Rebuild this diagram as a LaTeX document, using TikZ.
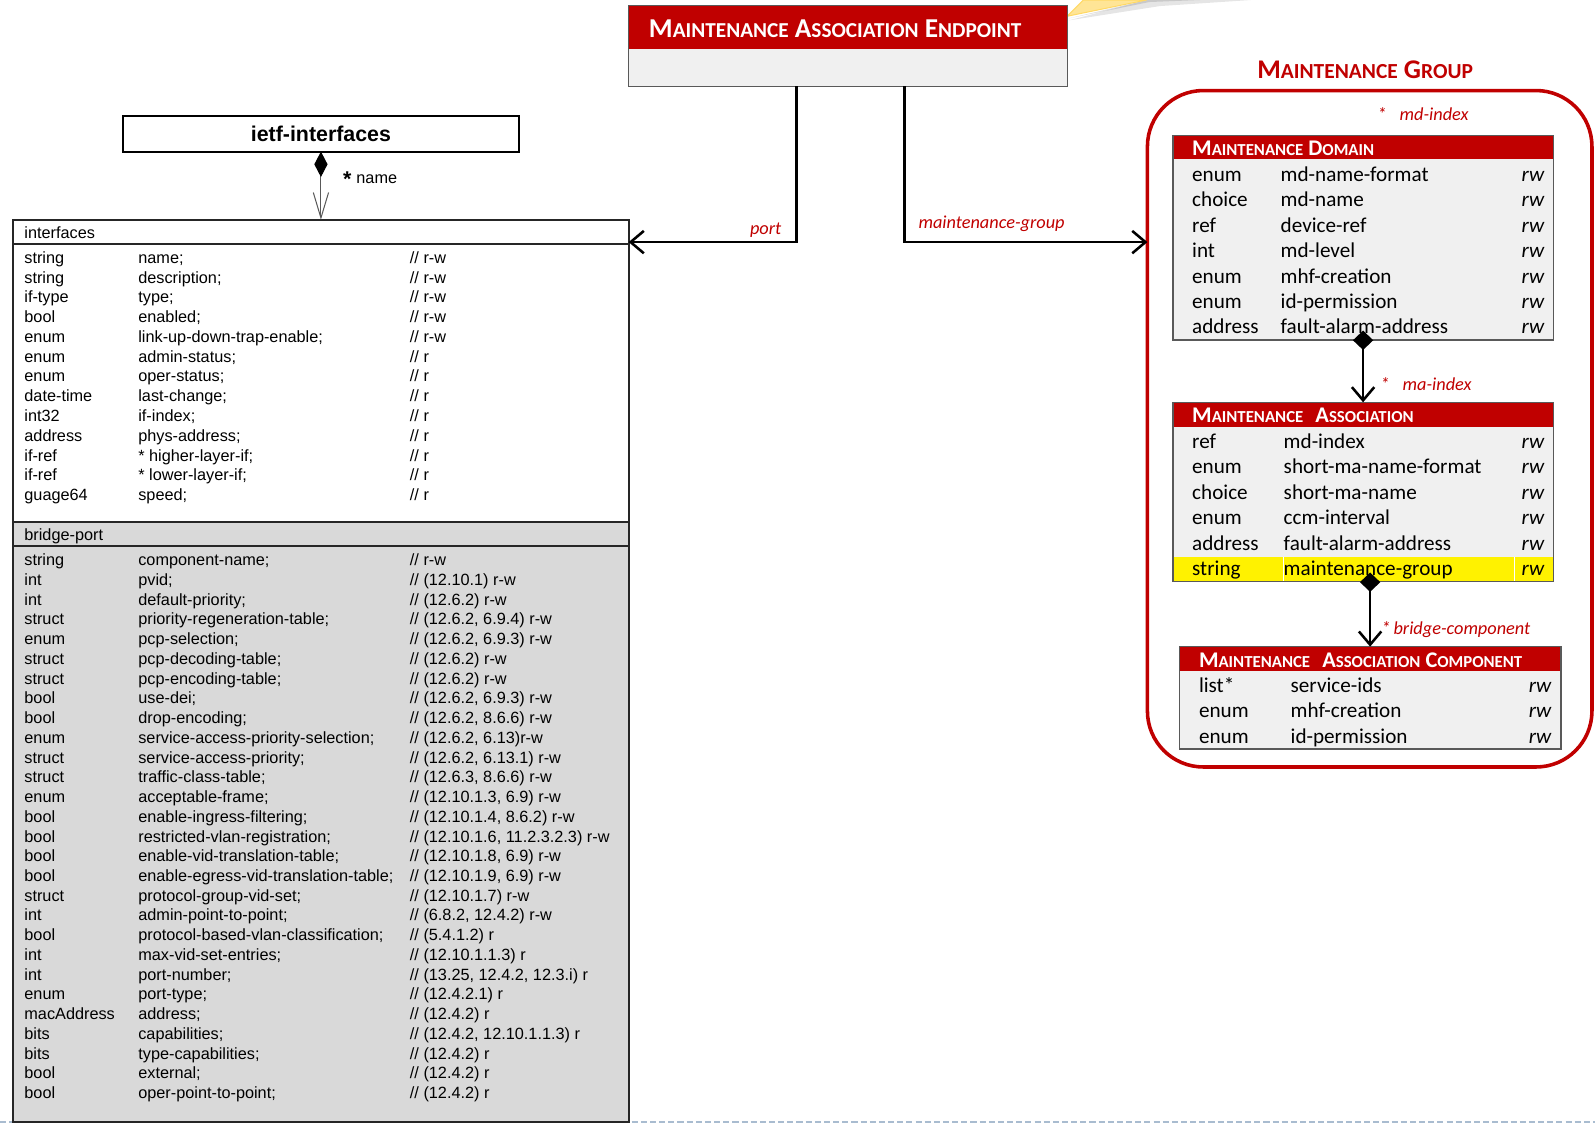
\documentclass[tikz,border=0pt]{standalone}
\usepackage{fontspec}
\setmainfont{Liberation Sans}
\newfontfamily\clb{Carlito}
\usetikzlibrary{arrows.meta,calc}
\definecolor{mred}{HTML}{C00000}
\definecolor{rowgray}{HTML}{F0F0F0}
\definecolor{bpgray}{HTML}{D9D9D9}
\definecolor{boxgray}{HTML}{595959}
\definecolor{dashblue}{HTML}{A9BCD0}
\definecolor{callout}{HTML}{FFE596}
\definecolor{calloutedge}{HTML}{FFD966}
\newcommand\fsz[1]{\fontsize{#1}{#1}\selectfont}
\newcommand\mysc[2]{{\fontsize{#1}{#1}\selectfont #2}}
\begin{document}
\begin{tikzpicture}[x=1pt,y=1pt,
  lt/.style={anchor=west,inner sep=0,outer sep=0,font=\fsz{16},text height=15pt,text depth=3pt},
  rt/.style={anchor=west,inner sep=0,outer sep=0,font=\clb\fsz{20.8},text height=17pt,text depth=4pt},
  rwt/.style={anchor=east,inner sep=0,outer sep=0,font=\clb\itshape\fsz{20.8},text height=17pt,text depth=4pt},
  redlbl/.style={inner sep=0,outer sep=0,text=mred,font=\clb\itshape\fsz{18}},
  hdrtxt/.style={anchor=base west,inner sep=0,outer sep=0,text=white,font=\clb\bfseries},
  cbox/.style={draw=boxgray,line width=1.5pt,fill=rowgray,anchor=north west,inner sep=0,outer sep=0},
  hdr/.style={path picture={\fill[mred] (path picture bounding box.north west) rectangle ([yshift=-#1]path picture bounding box.north east);}},
  conn/.style={line width=2.5pt},
]
\useasboundingbox (0,0) rectangle (1568,-1105);
% bottom dashed line
\draw[dashblue,line width=2pt,dash pattern=on 6pt off 3pt] (0,-1103) -- (1568,-1103);
% callout pointer
\fill[black,opacity=0.10] (1051,-20) -- (1140,-6) -- (1230,0) -- (1127,0) -- cycle;
\fill[black,opacity=0.12] (1051,-18) -- (1130,-2) -- (1180,0) -- (1127,0) -- cycle;
\fill[callout,draw=calloutedge,line width=1pt,line join=round] (1049,-16) -- (1065,0) -- (1127,0) -- cycle;
% Maintenance association endpoint
\node[draw=boxgray,line width=1pt,fill=rowgray,anchor=north west,inner sep=0,outer sep=0,
  minimum width=431pt,minimum height=80pt,hdr=43pt] (mae) at (618,-5) {};
\node[hdrtxt] (maet) at (638,-37) {\fsz{26.8}M\mysc{20.9}{AINTENANCE} A\mysc{20.9}{SSOCIATION} E\mysc{20.9}{NDPOINT}};
% ietf-interfaces
\node[draw,line width=2pt,anchor=north west,inner sep=0,outer sep=0,minimum width=389pt,minimum height=35pt,
  font=\bfseries\fsz{21}] (ietf) at (121,-114) {ietf-interfaces};
% interfaces table
\node[draw=black!85,line width=2pt,fill=white,anchor=north west,inner sep=0,outer sep=0,
  minimum width=605pt,minimum height=887pt,
  path picture={\fill[bpgray] (path picture bounding box.south west) rectangle ([yshift=590pt]path picture bounding box.south east);}] (iface) at (13,-216) {};
\coordinate (l1) at (0,-240);
\coordinate (l2) at (0,-513);
\coordinate (l3) at (0,-537);
\draw[black!85,line width=2pt] (iface.west |- l1) -- (iface.east |- l1);
\draw[black!85,line width=2.5pt] (iface.west |- l2) -- (iface.east |- l2);
\draw[black!85,line width=2pt] (iface.west |- l3) -- (iface.east |- l3);
\node[lt] (ifh) at (24,-228) {interfaces};
\node[lt] (bph) at (24,-525) {bridge-port};
\foreach \a/\b/\c [count=\i from 0] in {
 string/name;/r-w, string/description;/r-w, if-type/type;/r-w, bool/enabled;/r-w,
 enum/link-up-down-trap-enable;/r-w, enum/admin-status;/r, enum/oper-status;/r,
 date-time/last-change;/r, int32/if-index;/r, address/phys-address;/r,
 if-ref/{* higher-layer-if;}/r, if-ref/{* lower-layer-if;}/r, guage64/speed;/r}{
 \node[lt] (ia\i) at (24,{-253-19.42*\i}) {\a};
 \node[lt] (ib\i) at (136,{-253-19.42*\i}) {\b};
 \node[lt] (ic\i) at (403,{-253-19.42*\i}) {// \c};
}
\foreach \a/\b/\c [count=\i from 0] in {
 string/component-name;/{r-w},
 int/pvid;/{(12.10.1) r-w},
 int/default-priority;/{(12.6.2) r-w},
 struct/priority-regeneration-table;/{(12.6.2, 6.9.4) r-w},
 enum/pcp-selection;/{(12.6.2, 6.9.3) r-w},
 struct/pcp-decoding-table;/{(12.6.2) r-w},
 struct/pcp-encoding-table;/{(12.6.2) r-w},
 bool/use-dei;/{(12.6.2, 6.9.3) r-w},
 bool/drop-encoding;/{(12.6.2, 8.6.6) r-w},
 enum/service-access-priority-selection;/{(12.6.2, 6.13)r-w},
 struct/service-access-priority;/{(12.6.2, 6.13.1) r-w},
 struct/traffic-class-table;/{(12.6.3, 8.6.6) r-w},
 enum/acceptable-frame;/{(12.10.1.3, 6.9) r-w},
 bool/enable-ingress-filtering;/{(12.10.1.4, 8.6.2) r-w},
 bool/restricted-vlan-registration;/{(12.10.1.6, 11.2.3.2.3) r-w},
 bool/enable-vid-translation-table;/{(12.10.1.8, 6.9) r-w},
 bool/enable-egress-vid-translation-table;/{(12.10.1.9, 6.9) r-w},
 struct/protocol-group-vid-set;/{(12.10.1.7) r-w},
 int/admin-point-to-point;/{(6.8.2, 12.4.2) r-w},
 bool/protocol-based-vlan-classification;/{(5.4.1.2) r},
 int/max-vid-set-entries;/{(12.10.1.1.3) r},
 int/port-number;/{(13.25, 12.4.2, 12.3.i) r},
 enum/port-type;/{(12.4.2.1) r},
 macAddress/address;/{(12.4.2) r},
 bits/capabilities;/{(12.4.2, 12.10.1.1.3) r},
 bits/type-capabilities;/{(12.4.2) r},
 bool/external;/{(12.4.2) r},
 bool/oper-point-to-point;/{(12.4.2) r}}{
 \node[lt] (ba\i) at (24,{-550-19.41*\i}) {\a};
 \node[lt] (bb\i) at (136,{-550-19.41*\i}) {\b};
 \node[lt] (bc\i) at (403,{-550-19.41*\i}) {// \c};
}
% ietf -> interfaces
\draw[black!65,line width=1pt,{Diamond[length=25pt,width=13pt,color=black]}-{Straight Barb[length=25pt,width=15pt]}]
  (ietf.south) -- (iface.north -| ietf.south);
\node[inner sep=0,anchor=base west] (nm) at (337,-180) {\raisebox{-3pt}{\bfseries\fsz{21}*}\hspace{5pt}\fsz{16}name};
% Maintenance group
\node[draw=mred,line width=3.5pt,rounded corners=55pt,anchor=north west,inner sep=0,outer sep=0,
  minimum width=437pt,minimum height=665pt] (mg) at (1128,-89) {};
\node[anchor=base,inner sep=0,text=mred,font=\clb\bfseries] (mgt) at (1342,-77) {\fsz{26.5}M\mysc{21.1}{AINTENANCE} G\mysc{21.1}{ROUP}};
% connectors from MAE
\coordinate (pj) at (783,-238);
\coordinate (mj) at (889,-238);
\draw[conn,-{Straight Barb[length=13pt,width=22pt]}] (mae.south -| pj) |- (iface.east |- pj);
\draw[conn,-{Straight Barb[length=13pt,width=22pt]}] (mae.south -| mj) |- (mg.west |- mj);
\node[redlbl,anchor=base east] (plbl) at (768,-231) {port};
\node[redlbl,anchor=base west] (mglbl) at (903,-225) {maintenance-group};
% Maintenance domain
\node[redlbl,anchor=base west] (mdi) at (1354,-118.5) {*\hspace{13pt}md-index};
\node[cbox,minimum width=374pt,minimum height=201pt,hdr=23.6pt] (md) at (1153,-133) {};
\node[hdrtxt] (mdt) at (1172,-152.5) {\fsz{22}M\mysc{16.5}{AINTENANCE} D\mysc{16.5}{OMAIN}};
\foreach \a/\b [count=\i from 0] in {enum/md-name-format, choice/md-name, ref/device-ref, int/md-level,
  enum/mhf-creation, enum/id-permission, address/fault-alarm-address}{
 \node[rt] (mda\i) at (1172,{-172-24.97*\i}) {\a};
 \node[rt] (mdb\i) at (1259,{-172-24.97*\i}) {\b};
 \node[rwt] (mdc\i) at (1518,{-172-24.97*\i}) {rw};
}
% Maintenance association
\node[cbox,minimum width=374pt,minimum height=176.3pt,hdr=24pt] (ma) at (1153,-395.5) {};
\fill[yellow] (1153.75,-547.2) rectangle (1526.25,-571);
\draw[white,line width=1pt] (1261.5,-547.2) -- (1261.5,-571) (1489,-547.2) -- (1489,-571);
\node[hdrtxt] (mat) at (1172,-415) {\fsz{22}M\mysc{16.5}{AINTENANCE}\hspace{7pt} A\mysc{16.5}{SSOCIATION}};
\foreach \a/\b [count=\i from 0] in {ref/md-index, enum/short-ma-name-format, choice/short-ma-name,
  enum/ccm-interval, address/fault-alarm-address, string/maintenance-group}{
 \node[rt] (maa\i) at (1172,{-434.2-25.1*\i}) {\a};
 \node[rt] (mab\i) at (1262,{-434.2-25.1*\i}) {\b};
 \node[rwt] (mac\i) at (1518,{-434.2-25.1*\i}) {rw};
}
\draw[boxgray,line width=1.5pt] (ma.north west) rectangle (ma.south east);
% Maintenance association component
\node[cbox,minimum width=375pt,minimum height=100.6pt,hdr=24pt] (mac) at (1159.4,-635.7) {};
\node[hdrtxt] (mact) at (1178.7,-656.4) {\fsz{22}M\mysc{16.5}{AINTENANCE}\hspace{7pt} A\mysc{16.5}{SSOCIATION} C\mysc{16.5}{OMPONENT}};
\foreach \a/\b [count=\i from 0] in {list*/service-ids, enum/mhf-creation, enum/id-permission}{
 \node[rt] (mca\i) at (1178.7,{-674.4-24.9*\i}) {\a};
 \node[rt] (mcb\i) at (1268.8,{-674.4-24.9*\i}) {\b};
 \node[rwt] (mcc\i) at (1525,{-674.4-24.9*\i}) {rw};
}
% composition connectors
\draw[conn,shorten <=-9pt,{Diamond[length=19pt,width=20pt]}-{Straight Barb[length=13pt,width=22pt]}]
  (md.south) -- (ma.north);
\node[redlbl,anchor=base west] (mai) at (1357,-384) {*\hspace{13pt}ma-index};
\draw[conn,shorten <=-9pt,{Diamond[length=19pt,width=20pt]}-{Straight Barb[length=13pt,width=22pt]}]
  (ma.south -| mac.north) -- (mac.north);
\node[redlbl,anchor=base west] (bci) at (1358,-624) {*\,bridge-component};
\end{tikzpicture}
\end{document}
